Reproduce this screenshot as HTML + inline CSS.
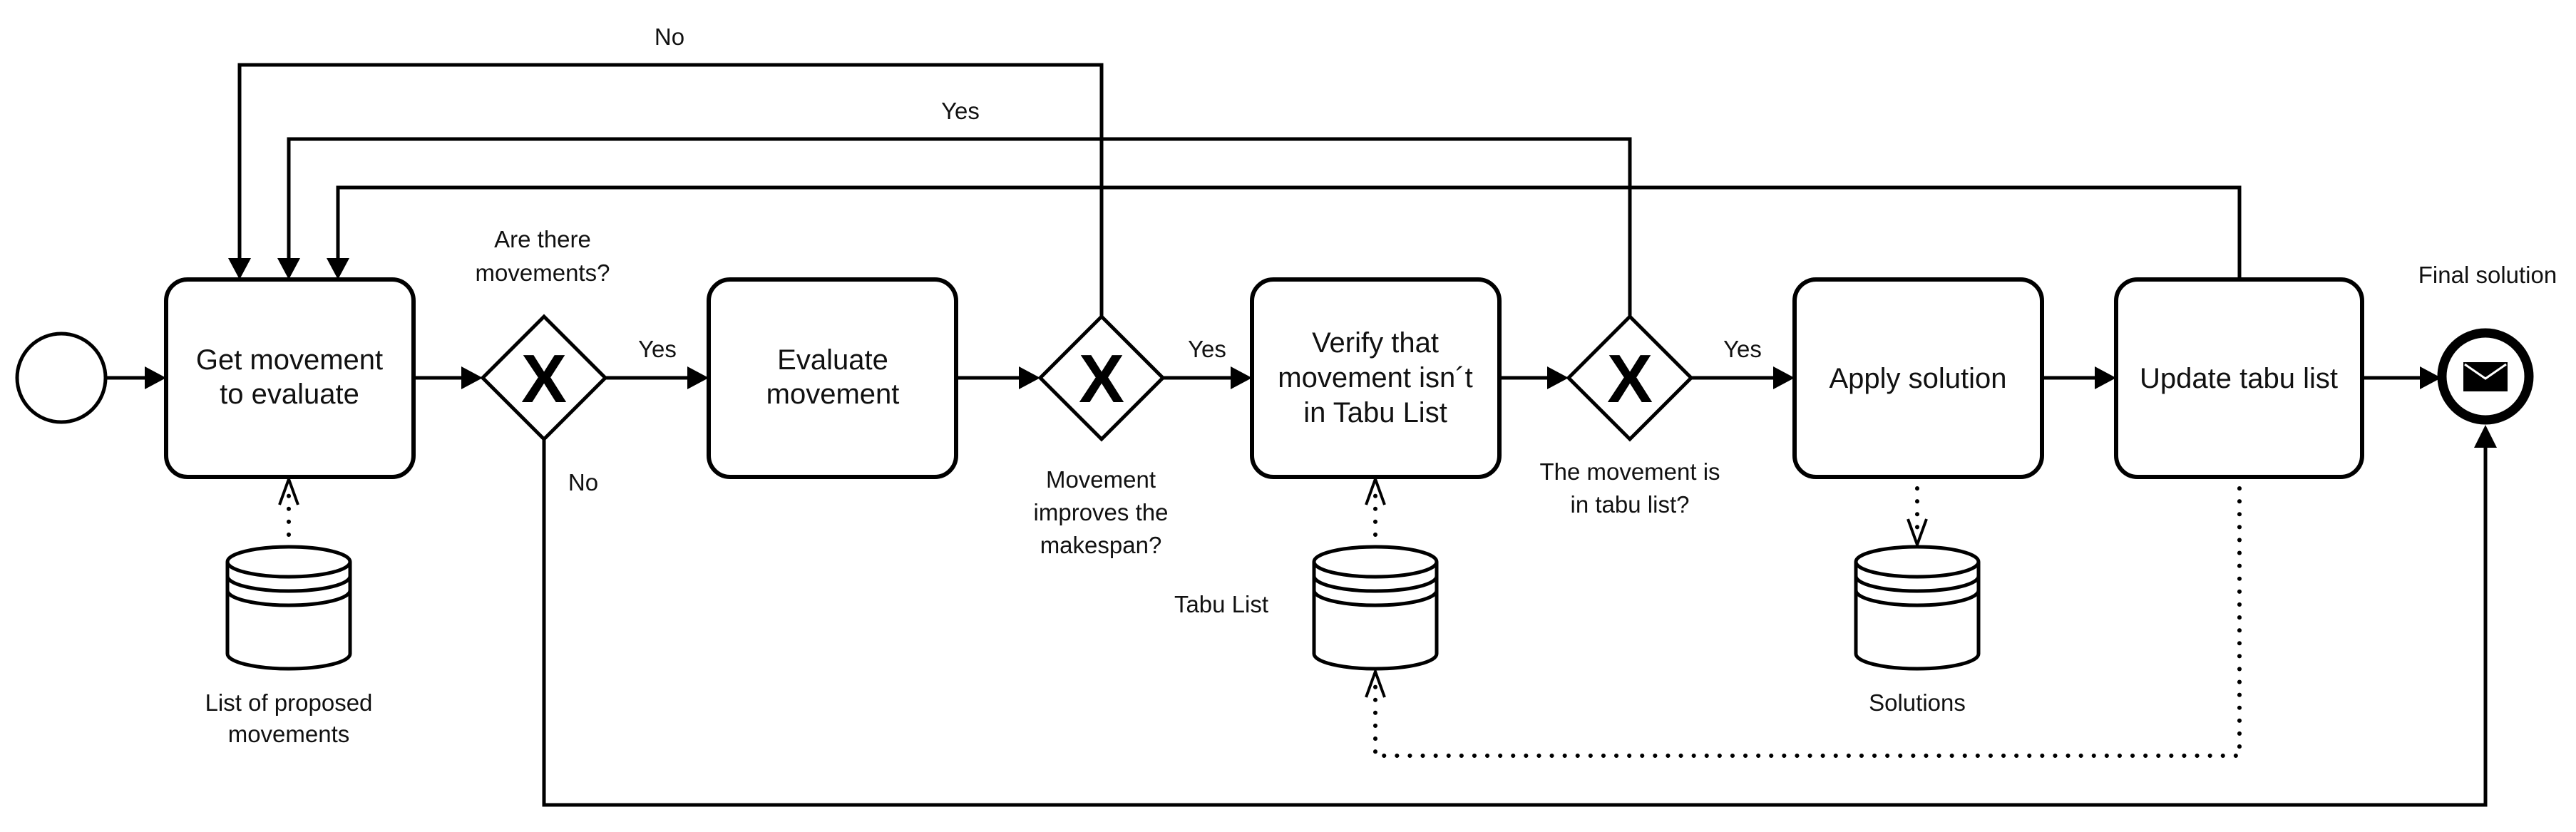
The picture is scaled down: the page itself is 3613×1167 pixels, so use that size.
<!DOCTYPE html>
<html><head><meta charset="utf-8"><style>
html,body{margin:0;padding:0;background:#fff;}
svg{display:block;}
text{font-family:"Liberation Sans",Arial,sans-serif;fill:#111;}
.b{font-size:40px;text-anchor:middle;}
.l{font-size:33px;text-anchor:middle;}
.x{font-size:96px;font-weight:bold;text-anchor:middle;fill:#000;}
</style></head><body>
<svg width="3613" height="1167" viewBox="0 0 3613 1167" xmlns="http://www.w3.org/2000/svg">
<g fill="none" stroke="#000" stroke-width="6">
<circle cx="86" cy="530" r="62" stroke-width="5"/>
<rect x="233" y="392" width="347" height="277" rx="30"/>
<rect x="994" y="392" width="347" height="277" rx="30"/>
<rect x="1756" y="392" width="347" height="277" rx="30"/>
<rect x="2517" y="392" width="347" height="277" rx="30"/>
<rect x="2968" y="392" width="345" height="277" rx="30"/>
<polygon points="763,444 849,530 763,616 677,530" stroke-width="5"/>
<polygon points="1545,444 1631,530 1545,616 1459,530" stroke-width="5"/>
<polygon points="2286,444 2372,530 2286,616 2200,530" stroke-width="5"/>
<circle cx="3486" cy="528" r="61" stroke-width="13"/>
</g>
<text class="x" x="763" y="564">X</text>
<text class="x" x="1545" y="564">X</text>
<text class="x" x="2286" y="564">X</text>
<rect x="3455" y="508" width="62" height="41" fill="#000"/>
<polyline points="3457,511 3486,531 3515,511" fill="none" stroke="#fff" stroke-width="3"/>
<g fill="none" stroke="#000" stroke-width="5">
<line x1="148" y1="530" x2="205" y2="530"/>
<line x1="580" y1="530" x2="650" y2="530"/>
<line x1="849" y1="530" x2="967" y2="530"/>
<line x1="1341" y1="530" x2="1432" y2="530"/>
<line x1="1631" y1="530" x2="1729" y2="530"/>
<line x1="2103" y1="530" x2="2173" y2="530"/>
<line x1="2372" y1="530" x2="2490" y2="530"/>
<line x1="2864" y1="530" x2="2941" y2="530"/>
<line x1="3313" y1="530" x2="3394" y2="530"/>
<polyline points="1545,444 1545,91 336,91 336,365"/>
<polyline points="2286,444 2286,195 405,195 405,365"/>
<polyline points="3141,392 3141,263 474,263 474,365"/>
<polyline points="763,616 763,1129 3486,1129 3486,628"/>
</g>
<g fill="#000">
<polygon points="233,530 203,514 203,546"/>
<polygon points="677,530 647,514 647,546"/>
<polygon points="994,530 964,514 964,546"/>
<polygon points="1459,530 1429,514 1429,546"/>
<polygon points="1756,530 1726,514 1726,546"/>
<polygon points="2200,530 2170,514 2170,546"/>
<polygon points="2517,530 2487,514 2487,546"/>
<polygon points="2968,530 2938,514 2938,546"/>
<polygon points="3424,530 3394,514 3394,546"/>
<polygon points="336,392 320,362 352,362"/>
<polygon points="405,392 389,362 421,362"/>
<polygon points="474,392 458,362 490,362"/>
<polygon points="3486,596 3470,628 3502,628"/>
</g>
<g fill="none" stroke="#000" stroke-width="6" stroke-dasharray="0.1 18" stroke-linecap="round">
<line x1="405" y1="750" x2="405" y2="690"/>
<line x1="1929" y1="750" x2="1929" y2="690"/>
<line x1="2689" y1="685" x2="2689" y2="745"/>
<polyline points="3141,685 3141,1060 1929,1060 1929,960"/>
</g>
<g fill="none" stroke="#000" stroke-width="4">
<polyline points="392,708 405,672 418,708"/>
<polyline points="1916,708 1929,672 1942,708"/>
<polyline points="2676,728 2689,764 2702,728"/>
<polyline points="1916,978 1929,942 1942,978"/>
</g>
<g fill="#fff" stroke="#000" stroke-width="5">
<path d="M319,788 V917 A86,21 0 0 0 491,917 V788"/>
<ellipse cx="405" cy="788" rx="86" ry="21"/>
<path d="M319,808 A86,21 0 0 0 491,808 M319,828 A86,21 0 0 0 491,828" fill="none"/>
<path d="M1843,788 V917 A86,21 0 0 0 2015,917 V788"/>
<ellipse cx="1929" cy="788" rx="86" ry="21"/>
<path d="M1843,808 A86,21 0 0 0 2015,808 M1843,828 A86,21 0 0 0 2015,828" fill="none"/>
<path d="M2603,788 V917 A86,21 0 0 0 2775,917 V788"/>
<ellipse cx="2689" cy="788" rx="86" ry="21"/>
<path d="M2603,808 A86,21 0 0 0 2775,808 M2603,828 A86,21 0 0 0 2775,828" fill="none"/>
</g>
<text class="b" x="406" y="518">Get movement</text>
<text class="b" x="406" y="566">to evaluate</text>
<text class="b" x="1168" y="518">Evaluate</text>
<text class="b" x="1168" y="566">movement</text>
<text class="b" x="1929" y="494">Verify that</text>
<text class="b" x="1929" y="543">movement isn´t</text>
<text class="b" x="1929" y="592">in Tabu List</text>
<text class="b" x="2690" y="544">Apply solution</text>
<text class="b" x="3140" y="544">Update tabu list</text>
<text class="l" x="939" y="63">No</text>
<text class="l" x="1347" y="167">Yes</text>
<text class="l" x="761" y="347">Are there</text>
<text class="l" x="761" y="394">movements?</text>
<text class="l" x="922" y="501">Yes</text>
<text class="l" x="1693" y="501">Yes</text>
<text class="l" x="2444" y="501">Yes</text>
<text class="l" x="818" y="688">No</text>
<text class="l" x="1544" y="684">Movement</text>
<text class="l" x="1544" y="730">improves the</text>
<text class="l" x="1544" y="776">makespan?</text>
<text class="l" x="2286" y="673">The movement is</text>
<text class="l" x="2286" y="719">in tabu list?</text>
<text class="l" x="1713" y="859">Tabu List</text>
<text class="l" x="405" y="997">List of proposed</text>
<text class="l" x="405" y="1041">movements</text>
<text class="l" x="2689" y="997">Solutions</text>
<text class="l" x="3489" y="397">Final solution</text>
</svg>
</body></html>
